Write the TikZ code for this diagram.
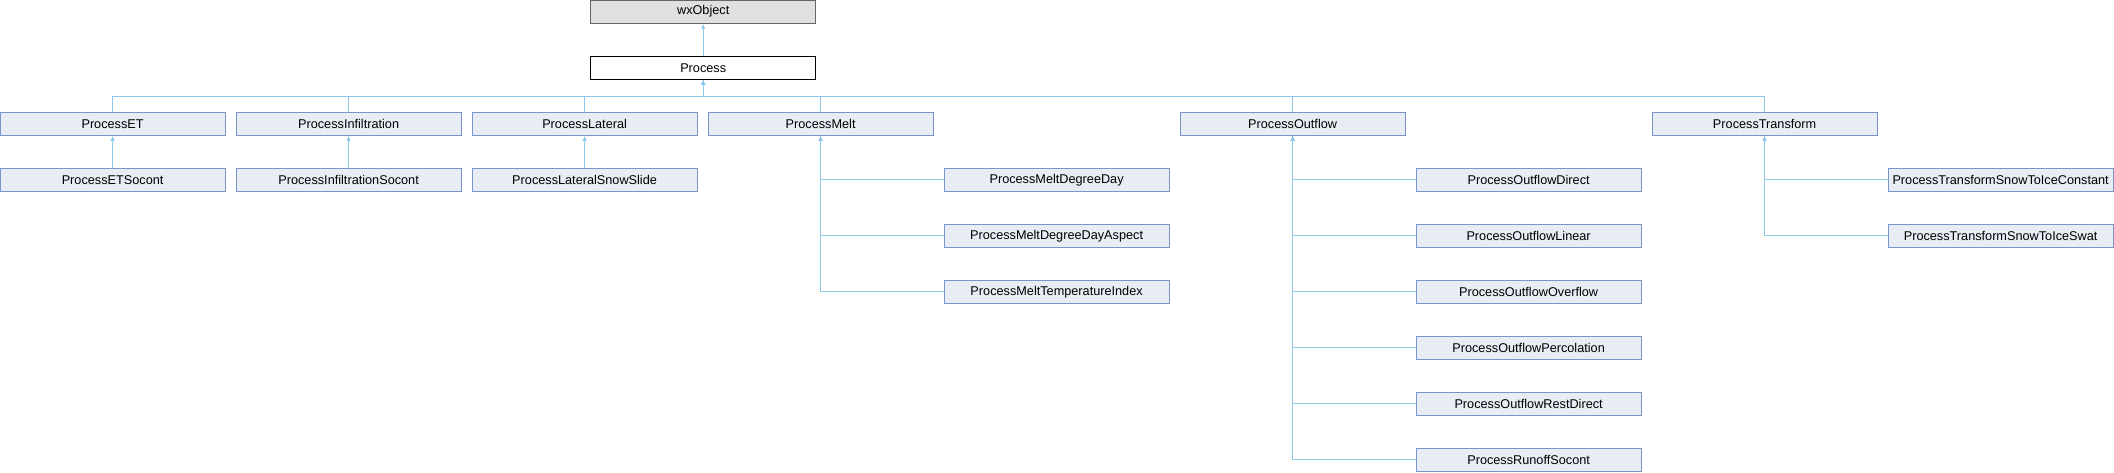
\documentclass[tikz,border=0pt]{standalone}
\usepackage{fontspec}
\setmainfont{Liberation Sans}
\usepackage{tikz}
\usetikzlibrary{positioning,arrows.meta}
\definecolor{boxfill}{HTML}{E8ECF5}
\definecolor{boxline}{HTML}{7C95C8}
\definecolor{edgeblue}{HTML}{8FC8EA}
\definecolor{extfill}{HTML}{E0E0E0}
\definecolor{extline}{HTML}{666666}

\begin{document}
\begin{tikzpicture}[x=1pt,y=1pt,
  cls/.style={rectangle, draw=boxline, fill=boxfill, line width=1pt, minimum width=225pt, minimum height=23pt, inner sep=0pt, font=\fontsize{12.7}{14}\selectfont},
  inh/.style={draw=edgeblue, line width=1pt, -{Latex[length=5pt,width=4.5pt]}}]
\useasboundingbox (0,0) rectangle (2114,-472);
%\node[cls] (top) at (703.2,-11.7){};
\node[cls, fill=extfill, draw=extline] (wxo) at (703.2,-11.7){wxObject};
\node[cls, fill=white, draw=black] (proc) at (703.2,-67.7){Process};
\node[cls] (et) at (112.6,-123.8){ProcessET};
\node[cls] (inf) at (348.6,-123.8){ProcessInfiltration};
\node[cls] (lat) at (584.6,-123.8){ProcessLateral};
\node[cls] (melt) at (820.6,-123.8){ProcessMelt};
\node[cls] (out) at (1292.6,-123.8){ProcessOutflow};
\node[cls] (trans) at (1764.6,-123.8){ProcessTransform};
\node[cls] (etsoc) at (112.6,-179.8){ProcessETSocont};
\node[cls] (infsoc) at (348.6,-179.8){ProcessInfiltrationSocont};
\node[cls] (latsnow) at (584.6,-179.8){ProcessLateralSnowSlide};
\node[cls] (meltdd) at (1056.6,-179.8){ProcessMeltDegreeDay};
\node[cls] (meltdda) at (1056.6,-235.8){ProcessMeltDegreeDayAspect};
\node[cls] (meltti) at (1056.6,-291.8){ProcessMeltTemperatureIndex};
\node[cls] (outdir) at (1528.6,-179.8){ProcessOutflowDirect};
\node[cls] (outlin) at (1528.6,-235.8){ProcessOutflowLinear};
\node[cls] (outover) at (1528.6,-291.8){ProcessOutflowOverflow};
\node[cls] (outperc) at (1528.6,-347.8){ProcessOutflowPercolation};
\node[cls] (outrest) at (1528.6,-403.8){ProcessOutflowRestDirect};
\node[cls] (runsoc) at (1528.6,-459.8){ProcessRunoffSocont};
\node[cls] (transconst) at (2000.6,-179.8){ProcessTransformSnowToIceConstant};
\node[cls] (transswat) at (2000.6,-235.8){ProcessTransformSnowToIceSwat};
\coordinate (bus) at (0,-96);
\draw[inh] (proc) to (wxo);
\foreach \c in {et,inf,lat,melt,out,trans}
  \draw[inh] (\c.north) -- (\c.north |- bus) -| (proc.south);
\draw[inh] (etsoc) to (et);
\draw[inh] (infsoc) to (inf);
\draw[inh] (latsnow) to (lat);
\foreach \c in {meltdd,meltdda,meltti}
  \draw[inh] (\c.west) -| (melt.south);
\foreach \c in {outdir,outlin,outover,outperc,outrest,runsoc}
  \draw[inh] (\c.west) -| (out.south);
\foreach \c in {transconst,transswat}
  \draw[inh] (\c.west) -| (trans.south);
\end{tikzpicture}
\end{document}
